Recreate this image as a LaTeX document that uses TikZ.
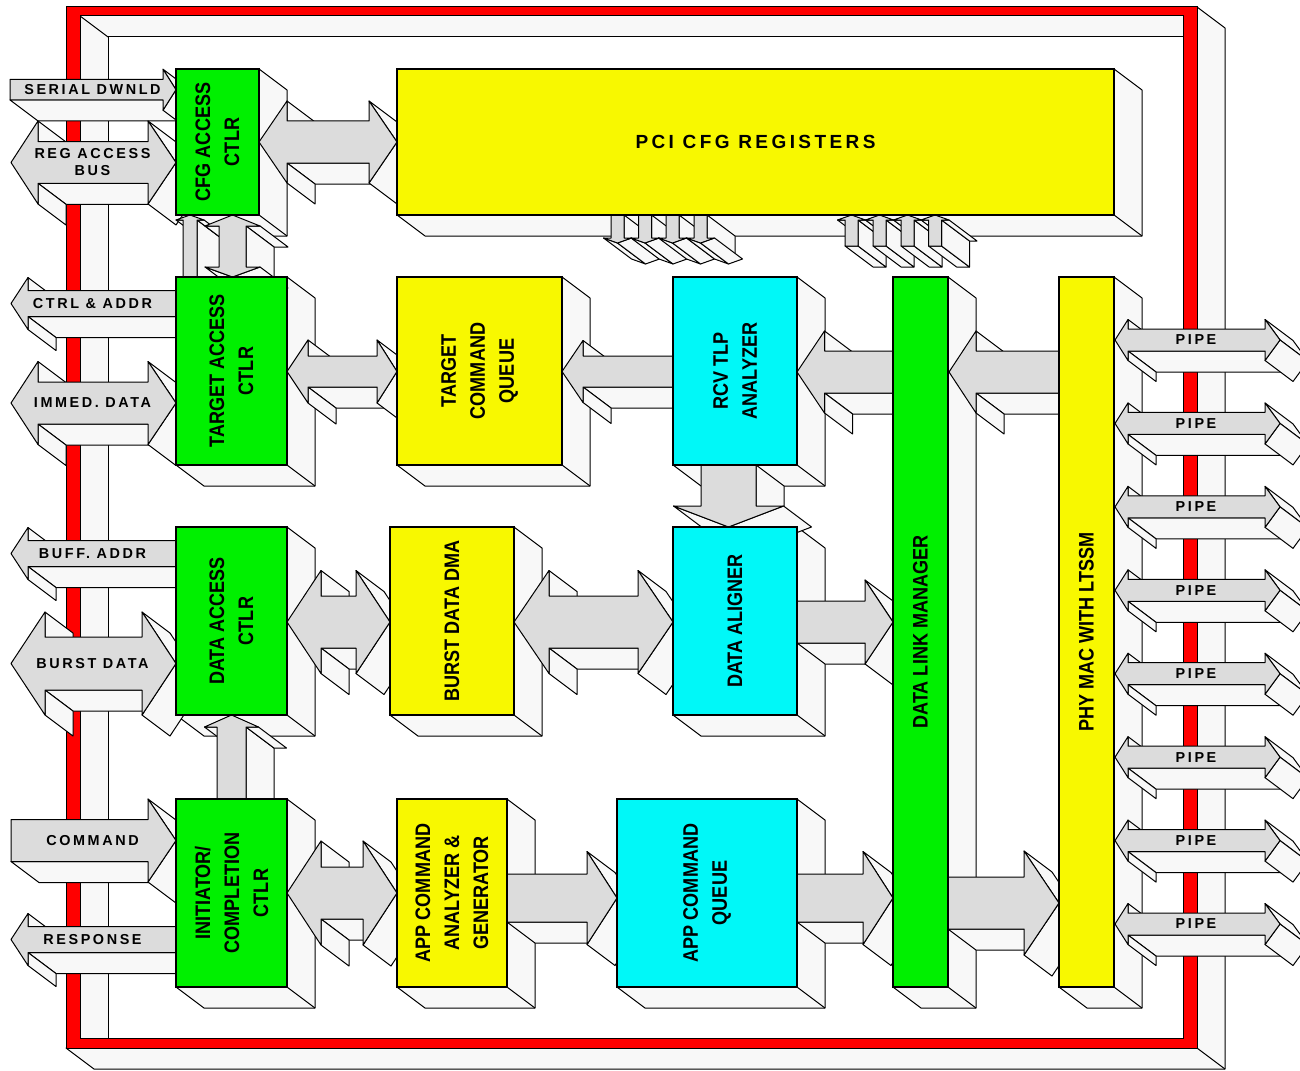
\documentclass[tikz,border=0pt]{standalone}
\usepackage{fontspec}
\setmainfont{Liberation Sans}
\newfontfamily\lblfont{Liberation Sans}[LetterSpace=18]
\newfontfamily\blkfont{Liberation Sans}[FakeStretch=0.86]
\definecolor{blkgreen}{RGB}{0,240,0}
\definecolor{blkyellow}{RGB}{248,248,0}
\definecolor{blkcyan}{RGB}{0,248,248}
\definecolor{framered}{RGB}{255,0,0}
\definecolor{arrowgray}{RGB}{220,220,220}
\definecolor{sidegray}{RGB}{248,248,248}
\tikzset{
  side/.style={fill=sidegray,draw=black,line width=.5pt,line join=round},
  barrow/.style={fill=arrowgray,draw=black,line width=.5pt,line join=round},
  blk/.style={draw=black,line width=.6pt,inner sep=0pt,align=center,font=\blkfont\bfseries\fontsize{10.5}{14.5}\selectfont},
  lbl/.style={align=center,inner sep=0pt,font=\lblfont\bfseries\fontsize{7.2}{8.5}\selectfont}
}
\def\dpx{28}\def\dpy{21}
% box: right and bottom faces
\newcommand\blkside[4]{%
\filldraw[side](#3,#2)--(#3+\dpx,#2+\dpy)--(#3+\dpx,#4+\dpy)--(#1+\dpx,#4+\dpy)--(#1,#4)--(#3,#4)--cycle;
\draw[line width=.5pt](#3,#4)--(#3+\dpx,#4+\dpy);}
% box: front face with its text
\newcommand\blkfront[8]{%
\pgfmathsetmacro\bw{(#4-#2)/2}\pgfmathsetmacro\bh{(#5-#3)/2}%
\ifnum#7=0\relax\let\bl\bw\let\bt\bh\else\let\bl\bh\let\bt\bw\fi
\node[blk,fill=#6,rotate=#7,minimum width=\bl pt,minimum height=\bt pt](#1)at({(#2+#4)/2},{(#3+#5)/2}){#8};}
% tail x, head x, tip x, mid y, half shaft, half head
\newcommand\arrR[6]{%
\filldraw[side](#1,#4+#5)--(#2,#4+#5)--(#2+\dpx,#4+#5+\dpy)--(#1+\dpx,#4+#5+\dpy)--cycle;
\filldraw[side](#2,#4-#6)--(#3,#4)--(#3+\dpx,#4+\dpy)--(#2+\dpx,#4-#6+\dpy)--cycle;
\filldraw[side](#3,#4)--(#2,#4+#6)--(#2+\dpx,#4+#6+\dpy)--(#3+\dpx,#4+\dpy)--cycle;
\filldraw[barrow](#1,#4-#5)--(#2,#4-#5)--(#2,#4-#6)--(#3,#4)--(#2,#4+#6)--(#2,#4+#5)--(#1,#4+#5)--cycle;}
\newcommand\arrL[6]{%
\filldraw[side](#2,#4-#6)--(#2,#4-#5)--(#2+\dpx,#4-#5+\dpy)--(#2+\dpx,#4-#6+\dpy)--cycle;
\filldraw[side](#2,#4+#5)--(#1,#4+#5)--(#1+\dpx,#4+#5+\dpy)--(#2+\dpx,#4+#5+\dpy)--cycle;
\filldraw[side](#2,#4+#5)--(#2,#4+#6)--(#2+\dpx,#4+#6+\dpy)--(#2+\dpx,#4+#5+\dpy)--cycle;
\filldraw[barrow](#1,#4-#5)--(#2,#4-#5)--(#2,#4-#6)--(#3,#4)--(#2,#4+#6)--(#2,#4+#5)--(#1,#4+#5)--cycle;}
% left tip, left head, right head, right tip, mid y, half shaft, half head
\newcommand\arrLR[7]{%
\filldraw[side](#2,#5-#7)--(#2,#5-#6)--(#2+\dpx,#5-#6+\dpy)--(#2+\dpx,#5-#7+\dpy)--cycle;
\filldraw[side](#3,#5-#7)--(#4,#5)--(#4+\dpx,#5+\dpy)--(#3+\dpx,#5-#7+\dpy)--cycle;
\filldraw[side](#2,#5+#6)--(#3,#5+#6)--(#3+\dpx,#5+#6+\dpy)--(#2+\dpx,#5+#6+\dpy)--cycle;
\filldraw[side](#2,#5+#6)--(#2,#5+#7)--(#2+\dpx,#5+#7+\dpy)--(#2+\dpx,#5+#6+\dpy)--cycle;
\filldraw[side](#4,#5)--(#3,#5+#7)--(#3+\dpx,#5+#7+\dpy)--(#4+\dpx,#5+\dpy)--cycle;
\filldraw[barrow](#1,#5)--(#2,#5-#7)--(#2,#5-#6)--(#3,#5-#6)--(#3,#5-#7)--(#4,#5)--(#3,#5+#7)--(#3,#5+#6)--(#2,#5+#6)--(#2,#5+#7)--cycle;}
% mid x, tail y, head y, tip y, half shaft, half head
\newcommand\arrU[6]{%
\filldraw[side](#1-#5,#2)--(#1+#5,#2)--(#1+#5+\dpx,#2+\dpy)--(#1-#5+\dpx,#2+\dpy)--cycle;
\filldraw[side](#1-#6,#3)--(#1-#5,#3)--(#1-#5+\dpx,#3+\dpy)--(#1-#6+\dpx,#3+\dpy)--cycle;
\filldraw[side](#1+#5,#3)--(#1+#5,#2)--(#1+#5+\dpx,#2+\dpy)--(#1+#5+\dpx,#3+\dpy)--cycle;
\filldraw[side](#1+#5,#3)--(#1+#6,#3)--(#1+#6+\dpx,#3+\dpy)--(#1+#5+\dpx,#3+\dpy)--cycle;
\filldraw[barrow](#1-#5,#2)--(#1-#5,#3)--(#1-#6,#3)--(#1,#4)--(#1+#6,#3)--(#1+#5,#3)--(#1+#5,#2)--cycle;}
\newcommand\arrD[6]{%
\filldraw[side](#1+#5,#2)--(#1+#5,#3)--(#1+#5+\dpx,#3+\dpy)--(#1+#5+\dpx,#2+\dpy)--cycle;
\filldraw[side](#1-#6,#3)--(#1,#4)--(#1+\dpx,#4+\dpy)--(#1-#6+\dpx,#3+\dpy)--cycle;
\filldraw[side](#1,#4)--(#1+#6,#3)--(#1+#6+\dpx,#3+\dpy)--(#1+\dpx,#4+\dpy)--cycle;
\filldraw[barrow](#1-#5,#2)--(#1+#5,#2)--(#1+#5,#3)--(#1+#6,#3)--(#1,#4)--(#1-#6,#3)--(#1-#5,#3)--cycle;}
% mid x, top tip, top head, bottom head, bottom tip, half shaft, half head
\newcommand\arrUD[7]{%
\filldraw[side](#1-#7,#3)--(#1-#6,#3)--(#1-#6+\dpx,#3+\dpy)--(#1-#7+\dpx,#3+\dpy)--cycle;
\filldraw[side](#1+#6,#3)--(#1+#7,#3)--(#1+#7+\dpx,#3+\dpy)--(#1+#6+\dpx,#3+\dpy)--cycle;
\filldraw[side](#1+#6,#3)--(#1+#6,#4)--(#1+#6+\dpx,#4+\dpy)--(#1+#6+\dpx,#3+\dpy)--cycle;
\filldraw[side](#1-#7,#4)--(#1,#5)--(#1+\dpx,#5+\dpy)--(#1-#7+\dpx,#4+\dpy)--cycle;
\filldraw[side](#1,#5)--(#1+#7,#4)--(#1+#7+\dpx,#4+\dpy)--(#1+\dpx,#5+\dpy)--cycle;
\filldraw[barrow](#1,#2)--(#1+#7,#3)--(#1+#6,#3)--(#1+#6,#4)--(#1+#7,#4)--(#1,#5)--(#1-#7,#4)--(#1-#6,#4)--(#1-#6,#3)--(#1-#7,#3)--cycle;}
\begin{document}
\begin{tikzpicture}[x=.5pt,y=-.5pt]
\useasboundingbox(0,0)rectangle(1300,1070);
% frame
\filldraw[side](1197,7)--(1225,28)--(1225,1069)--(94,1069)--(66,1048)--(1197,1048)--cycle;
\draw[line width=.5pt](1197,1048)--(1225,1069);
\filldraw[side](80,16)--(1183,16)--(1183,37)--(108,37)--(108,1038)--(80,1038)--cycle;
\draw[line width=.5pt](80,16)--(108,37);
\filldraw[fill=framered,draw=black,line width=.5pt,even odd rule](66,7)rectangle(1197,1048)(80,16)rectangle(1183,1038);
% box sides
\foreach\xa/\ya/\xb/\yb in{176/69/259/215,397/69/1114/215,176/277/287/465,397/277/562/465,
  673/277/797/465,893/277/948/987,1059/277/1114/987,176/527/287/715,390/527/514/715,
  673/527/797/715,176/799/287/987,397/799/507/987,617/799/797/987}{\blkside{\xa}{\ya}{\xb}{\yb}}
% host side
\arrR{10}{163}{176}{89.7}{10.3}{20.5}
\node[lbl](serial)at(92.5,89.7){SERIAL DWNLD};
\arrLR{11}{38}{148}{176}{162.5}{20.8}{41.5}
\node[lbl](regbus)at(92.5,162.5){REG ACCESS\\BUS};
\arrL{176}{28}{11}{303.5}{13}{26}
\node[lbl](ctrl)at(92.5,303.5){CTRL \& ADDR};
\arrLR{11}{38}{148}{176}{403}{21}{41.5}
\node[lbl](immed)at(92.5,403){IMMED. DATA};
\arrL{176}{28}{11}{553.5}{13}{26}
\node[lbl](buff)at(92.5,553.5){BUFF. ADDR};
\arrLR{11}{45}{142}{176}{663.5}{26.5}{51.5}
\node[lbl](burst)at(92.5,663.5){BURST DATA};
\arrR{11}{148}{176}{840.5}{21}{41.5}
\node[lbl](cmd)at(92.5,840.5){COMMAND};
\arrL{176}{28}{11}{939.5}{13}{26}
\node[lbl](resp)at(92.5,939.5){RESPONSE};
% inner paths
\arrLR{259}{287}{369}{397}{142}{21}{41}
\arrU{190}{277}{220}{215}{7}{14}
\arrUD{232.5}{215}{226}{267}{277}{13.5}{27.5}
\arrLR{287}{308}{377}{397}{371.5}{15.5}{31.5}
\arrL{673}{583}{562}{371.5}{15.5}{31}
\arrL{893}{824.5}{797}{372}{21}{41}
\arrL{1059}{976}{949}{372}{21}{41}
\arrD{728.5}{465}{506}{527}{27.5}{55}
\arrLR{287}{321}{356}{390}{622}{26}{51.5}
\arrLR{514}{549}{638}{673}{622}{26}{51.5}
\arrR{797}{865}{893}{622}{21}{42}
\arrU{231.5}{799}{727}{715}{14.5}{27}
\arrLR{287}{321}{363}{397}{893}{26}{52}
\arrR{507}{587}{617}{898}{24}{46.5}
\arrR{797}{863}{893}{898}{24}{46.5}
\arrR{948}{1024}{1059}{903}{26}{52}
\foreach\x in{617.5,645,672.5,700.5}{\arrD{\x}{215}{238}{243}{6.5}{14}}
\foreach\x in{851.5,879.5,907.5,935}{\arrU{\x}{246}{220}{215}{6.5}{14}}
% link side
\foreach\i in{0,...,7}{\pgfmathsetmacro\yc{340+83.43*\i}
  \arrLR{1115}{1128}{1265}{1280}{\yc}{11}{20.5}
  \node[lbl](pipe\i)at(1196,\yc){PIPE};}
% boxes
\blkfront{cfg}{176}{69}{259}{215}{blkgreen}{90}{CFG ACCESS\\CTLR}
\blkfront{pci}{397}{69}{1114}{215}{blkyellow}{0}{\lblfont\fontsize{9.5}{11}\selectfont PCI CFG REGISTERS}
\blkfront{tac}{176}{277}{287}{465}{blkgreen}{90}{TARGET ACCESS\\CTLR}
\blkfront{tcq}{397}{277}{562}{465}{blkyellow}{90}{TARGET\\COMMAND\\QUEUE}
\blkfront{rcv}{673}{277}{797}{465}{blkcyan}{90}{RCV TLP\\ANALYZER}
\blkfront{dlm}{893}{277}{948}{987}{blkgreen}{90}{DATA LINK MANAGER}
\blkfront{phy}{1059}{277}{1114}{987}{blkyellow}{90}{PHY MAC WITH LTSSM}
\blkfront{dac}{176}{527}{287}{715}{blkgreen}{90}{DATA ACCESS\\CTLR}
\blkfront{bdd}{390}{527}{514}{715}{blkyellow}{90}{BURST DATA DMA}
\blkfront{dal}{673}{527}{797}{715}{blkcyan}{90}{DATA ALIGNER}
\blkfront{icc}{176}{799}{287}{987}{blkgreen}{90}{INITIATOR/\\COMPLETION\\CTLR}
\blkfront{aca}{397}{799}{507}{987}{blkyellow}{90}{APP COMMAND\\ANALYZER \&\\GENERATOR}
\blkfront{acq}{617}{799}{797}{987}{blkcyan}{90}{APP COMMAND\\QUEUE}
\end{tikzpicture}
\end{document}
